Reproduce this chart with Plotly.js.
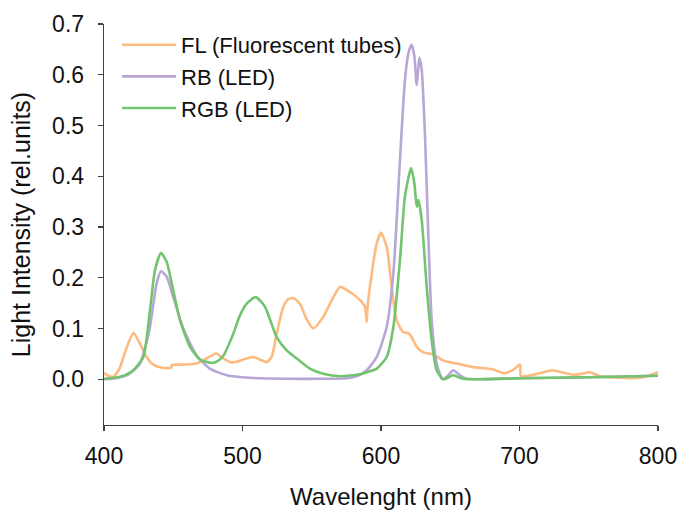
<!DOCTYPE html>
<html>
<head>
<meta charset="utf-8">
<script src="https://cdn.plot.ly/plotly-3.0.1.min.js"></script>
<style>html,body{margin:0;padding:0;background:#fff;}#chart{width:682px;height:510px;}</style>
</head>
<body>
<div id="chart"></div>
<script>
// FL (Fluorescent tubes)
const flX = [400, 403, 406.7, 411, 416, 421.2, 426, 430.8, 435, 440.4, 445.3, 448.6, 449, 456, 466.9, 474, 480.9, 486.2, 491, 495, 500.6, 507.8, 512.6, 517.5, 521, 524.7, 529.5, 533, 536.7, 541.5, 546, 551.1, 558.3, 565.6, 570.4, 577.6, 584.8, 588.4, 589.7, 590.2, 593.3, 596.9, 600, 604.1, 607.7, 611.3, 616.1, 619.7, 622.2, 625.8, 630.6, 637.8, 645, 654.7, 666.6, 680, 689.4, 695.7, 700.4, 701, 708.2, 716, 723.9, 733.4, 739.6, 745, 750.6, 758.5, 771, 786.8, 796, 800];
const flY = [0.013, 0.007, 0.005, 0.02, 0.06, 0.091, 0.07, 0.044, 0.03, 0.024, 0.022, 0.023, 0.028, 0.029, 0.031, 0.041, 0.051, 0.041, 0.034, 0.034, 0.039, 0.044, 0.039, 0.034, 0.044, 0.09, 0.143, 0.158, 0.160, 0.149, 0.12, 0.100, 0.123, 0.162, 0.182, 0.172, 0.156, 0.143, 0.113, 0.14, 0.208, 0.268, 0.289, 0.261, 0.182, 0.116, 0.093, 0.091, 0.083, 0.064, 0.053, 0.049, 0.037, 0.031, 0.024, 0.020, 0.012, 0.019, 0.029, 0.006, 0.008, 0.013, 0.018, 0.012, 0.009, 0.011, 0.014, 0.006, 0.003, 0.003, 0.010, 0.014];

// RB (LED)
const rbX = [400, 408, 416.4, 421, 426, 429.5, 433.2, 438, 441.2, 445.3, 450, 457.3, 466.9, 476.5, 488.6, 505.4, 530, 560, 575, 582.4, 589.7, 596.9, 604.1, 608.9, 613.7, 617.3, 620, 622.2, 624.1, 625.8, 627.7, 629.4, 631.8, 634.2, 636.6, 640.2, 644.5, 648.6, 652.2, 657, 661.9, 700, 750, 800];
const rbY = [0.0, 0.002, 0.008, 0.017, 0.031, 0.06, 0.103, 0.189, 0.213, 0.202, 0.162, 0.100, 0.047, 0.021, 0.008, 0.003, 0.001, 0.001, 0.002, 0.006, 0.018, 0.044, 0.103, 0.208, 0.432, 0.590, 0.645, 0.659, 0.636, 0.580, 0.634, 0.609, 0.478, 0.281, 0.116, 0.031, 0.0, 0.008, 0.018, 0.008, 0.001, 0.002, 0.004, 0.007];

// RGB (LED)
const rgbX = [400, 405, 411.6, 416, 421.2, 428.4, 433.2, 436.8, 441.2, 445.3, 448.9, 454.9, 462.1, 469.3, 477.8, 482.5, 486.1, 493.4, 498, 503, 509.5, 516.2, 524.7, 531.9, 541.5, 548.7, 558.3, 570.4, 584.8, 590, 596.9, 604.1, 608.9, 613.7, 617.3, 621.7, 624.1, 625.8, 627, 629.4, 633, 636.6, 640.2, 645, 652.2, 659.4, 700, 750, 800];
const rgbY = [0.001, 0.002, 0.005, 0.009, 0.018, 0.044, 0.136, 0.215, 0.249, 0.231, 0.189, 0.116, 0.064, 0.039, 0.032, 0.037, 0.046, 0.090, 0.125, 0.149, 0.162, 0.143, 0.083, 0.057, 0.036, 0.021, 0.011, 0.006, 0.010, 0.014, 0.021, 0.044, 0.103, 0.235, 0.360, 0.416, 0.386, 0.340, 0.353, 0.314, 0.182, 0.077, 0.018, 0.0, 0.008, 0.001, 0.002, 0.004, 0.007];

const seriesNames = ['FL (Fluorescent tubes)', 'RB (LED)', 'RGB (LED)'];
const xTicks = [400, 500, 600, 700, 800];
const yTicks = [0.0, 0.1, 0.2, 0.3, 0.4, 0.5, 0.6, 0.7];
const yTickText = ['0.0', '0.1', '0.2', '0.3', '0.4', '0.5', '0.6', '0.7'];

const FONT = 'Liberation Sans, Arial, sans-serif';
const mk = (x, y, name, color) => ({
  x: x, y: y, name: name, type: 'scatter', mode: 'lines',
  line: {color: color, width: 2.6, shape: 'spline', smoothing: 0.6}
});

const data = [
  mk(flX, flY, seriesNames[0], '#FDBB80'),
  mk(rbX, rbY, seriesNames[1], '#B7A6D6'),
  mk(rgbX, rgbY, seriesNames[2], '#72C46E')
];

const axisCommon = {
  showgrid: false, zeroline: false, showline: true, linecolor: '#404040', linewidth: 1.3,
  ticks: 'outside', ticklen: 5, tickwidth: 1.3, tickcolor: '#404040',
  tickfont: {family: FONT, size: 23, color: '#111'}
};

const layout = {
  width: 682, height: 510,
  margin: {l: 104, r: 24, t: 24, b: 85},
  paper_bgcolor: '#fff', plot_bgcolor: '#fff',
  showlegend: true,
  legend: {x: 0.0236, y: 1.0, xanchor: 'left', yanchor: 'top', bgcolor: 'rgba(0,0,0,0)',
           font: {family: FONT, size: 22, color: '#111'}, tracegroupgap: 0, itemwidth: 54},
  xaxis: Object.assign({}, axisCommon, {
    range: [400, 800], tickvals: xTicks, ticktext: xTicks.map(String), ticklabelstandoff: 5,
    title: {text: 'Wavelenght (nm)', font: {family: FONT, size: 24, color: '#111'}, standoff: 24}
  }),
  yaxis: Object.assign({}, axisCommon, {
    range: [-0.09, 0.7], tickvals: yTicks, ticktext: yTickText, ticklabelstandoff: 9,
    title: {text: 'Light Intensity (rel.units)', font: {family: FONT, size: 25, color: '#111'}, standoff: 14}
  })
};

Plotly.newPlot('chart', data, layout, {displayModeBar: false, staticPlot: true});
</script>
</body>
</html>
